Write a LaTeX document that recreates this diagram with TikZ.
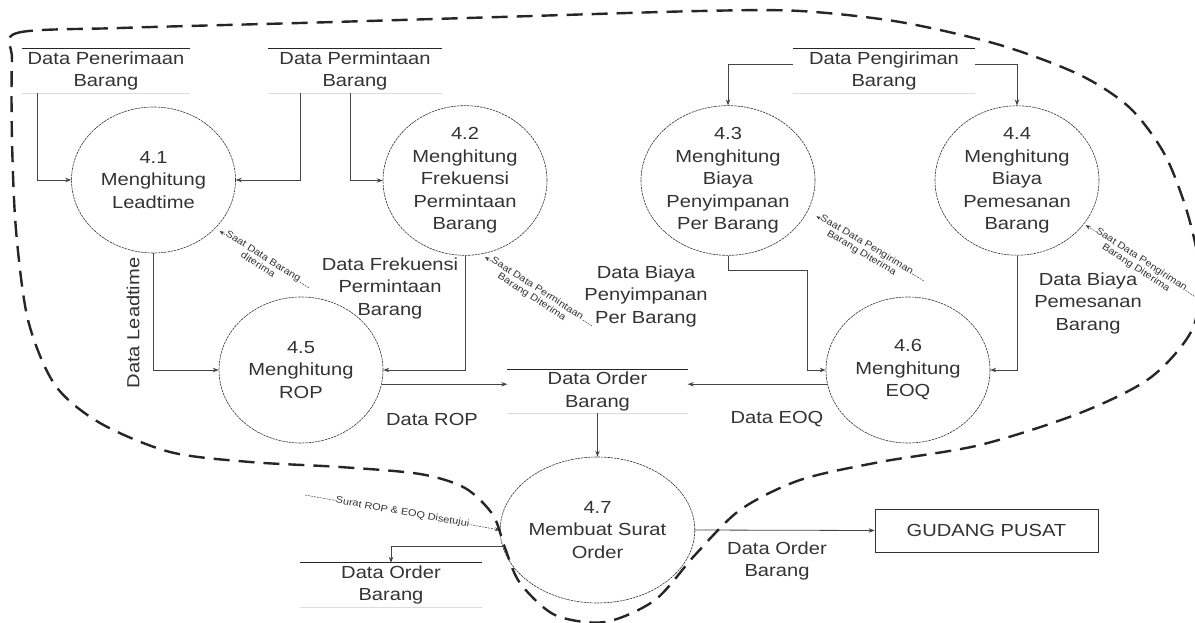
\documentclass[tikz,border=0pt]{standalone}
\usepackage{fontspec}
\setmainfont{Liberation Sans}[FakeStretch=1.15]
\usetikzlibrary{shapes.geometric,arrows.meta}
\pgfdeclarelayer{bg}
\pgfsetlayers{bg,main}
\definecolor{ink}{HTML}{333333}
\definecolor{wire}{HTML}{444444}
\definecolor{faint}{HTML}{DDDDDD}

\begin{document}
\begin{tikzpicture}[x=1pt,y=-1pt,
  every node/.style={text=ink},
  txt/.style={align=center, inner sep=0pt, font=\fontsize{17.5}{22.5}\selectfont},
  proc/.style={txt, ellipse, draw=ink, line width=0.6pt, dash pattern=on 2.5pt off 0.8pt,
    minimum width=164pt, minimum height=146pt},
  store/.style={txt, minimum height=44pt},
  storetop/.style={draw=black!85, line width=1.1pt},
  storebot/.style={draw=faint, line width=0.8pt},
  flow/.style={draw=wire, line width=0.8pt, -{Stealth[length=6pt,width=4.5pt]}},
  sig/.style={draw=wire, line width=0.5pt, dash pattern=on 2pt off 1pt, -{Stealth[length=5pt,width=4pt]}},
  tag/.style={font=\fontsize{9.5}{10}\selectfont, align=center, inner sep=0.3pt, fill=white},
  boundary/.style={draw=black!85, line width=2.4pt, dash pattern=on 16pt off 9pt},
]
\useasboundingbox (0,0) rectangle (1195,623);

% data stores
\node[store, minimum width=168pt] (s1) at (106,71) {Data Penerimaan\\Barang};
\node[store, minimum width=174pt] (s2) at (355,71) {Data Permintaan\\Barang};
\node[store, minimum width=182pt] (s3) at (884,71) {Data Pengiriman\\Barang};
\node[store, minimum width=180pt, minimum height=43pt] (sm) at (597.5,391.5) {Data Order\\Barang};
\node[store, minimum width=182pt] (sb) at (391,585) {Data Order\\Barang};
\foreach \s in {s1,s2,s3,sm,sb}{
  \draw[storetop] (\s.north west) -- (\s.north east);
  \draw[storebot] (\s.south west) -- (\s.south east);
}

% processes
\node[proc] (p41) at (153.5,180) {4.1\\Menghitung\\Leadtime};
\node[proc] (p42) at (465,180.5) {4.2\\Menghitung\\Frekuensi\\Permintaan\\Barang};
\node[proc] (p43) at (728,180.5) {4.3\\Menghitung\\Biaya\\Penyimpanan\\Per Barang};
\node[proc] (p44) at (1017,180.5) {4.4\\Menghitung\\Biaya\\Pemesanan\\Barang};
\node[proc] (p45) at (301,370) {4.5\\Menghitung\\ROP};
\node[proc] (p46) at (908,370) {4.6\\Menghitung\\EOQ};
\node[proc] (p47) at (597.5,530) {4.7\\Membuat Surat\\Order};

% external entity
\node[txt, draw=ink, line width=0.8pt, minimum width=223pt, minimum height=43pt] (gp) at (986.5,530.5) {GUDANG PUSAT};

% flow labels
\node[txt, rotate=90] (lLead) at (133,323) {Data Leadtime};
\node[txt] (lFreq) at (390,288) {Data Frekuensi\\Permintaan\\Barang};
\node[txt] (lSimpan) at (646,296) {Data Biaya\\Penyimpanan\\Per Barang};
\node[txt] (lPesan) at (1088,303) {Data Biaya\\Pemesanan\\Barang};
\node[txt] (lRop) at (432,419) {Data ROP};
\node[txt] (lEoq) at (777,419) {Data EOQ};
\node[txt] (lOrder) at (777,561) {Data Order\\Barang};

% data flows
\draw[flow] ([xshift=16pt]s1.south west) |- (p41);
\draw[flow] ([xshift=33pt]s2.south west) |- (p41);
\draw[flow] ([xshift=83pt]s2.south west) |- (p42);
\draw[flow] ([yshift=7pt]s3.west) -| (p43);
\draw[flow] ([yshift=7pt]s3.east) -| (p44);
\draw[flow] (p41.south) |- (p45.west);
\draw[flow] (p42.south) |- (p45.east);
\draw[flow] (p43.south) -- ++(0,15) -| ([xshift=-18pt]p46.west) -- (p46.west);
\draw[flow] (p44.south) |- (p46.east);
\coordinate (a45) at (p45.-10);
\coordinate (a46) at (p46.190);
\coordinate (a47) at (p47.190);
\draw[flow] (a45) -- (a45 -| sm.west);
\draw[flow] (a46) -- (a46 -| sm.east);
\draw[flow] (sm.south) -- (p47.north);
\draw[flow] (a47) -| (sb.north);
\draw[flow] (p47.east) -- (gp.west);

% trigger signals
\coordinate (c1) at (309,288);
\coordinate (c2) at (592,326);
\coordinate (c3) at (924,281);
\coordinate (c4) at (1197,298);
\coordinate (c5) at (305,495);
\begin{pgfonlayer}{bg}
\draw[sig, shorten >=5pt] (c1) -- (p41.-38)
  node[tag, midway, sloped, below=-6.5pt] {Saat Data Barang\\diterima};
\draw[sig, shorten >=5pt] (c2) -- (p42.-78)
  node[tag, midway, sloped, below=-6.5pt] {Saat Data Permintaan\\Barang Diterima};
\draw[sig, shorten >=10pt] (c3) -- (p43.-21)
  node[tag, midway, sloped, below=-6.5pt] {Saat Data Pengiriman\\Barang Diterima};
\draw[sig, shorten >=2pt] (c4) -- (p44.-33)
  node[tag, midway, sloped, below=-6.5pt] {Saat Data Pengiriman\\Barang Diterima};
\draw[sig] (c5) -- (p47.west)
  node[tag, midway, sloped] {Surat ROP \& EOQ Disetujui};
\end{pgfonlayer}

% system boundary
\draw[boundary] plot[smooth cycle, tension=0.5] coordinates {
  (12,60) (17,33) (120,28) (300,23) (500,17) (700,11) (800,11) (900,22)
  (1000,45) (1080,75) (1130,108) (1165,155) (1188,215) (1200,275) (1192,330)
  (1150,378) (1080,413) (980,445) (880,462) (800,480) (740,510) (695,555)
  (655,600) (605,622) (555,615) (520,583) (505,548) (493,515) (465,488)
  (420,474) (340,467) (250,462) (170,452) (100,423) (55,385) (28,320)
  (16,230) (12,140)};
\end{tikzpicture}
\end{document}
